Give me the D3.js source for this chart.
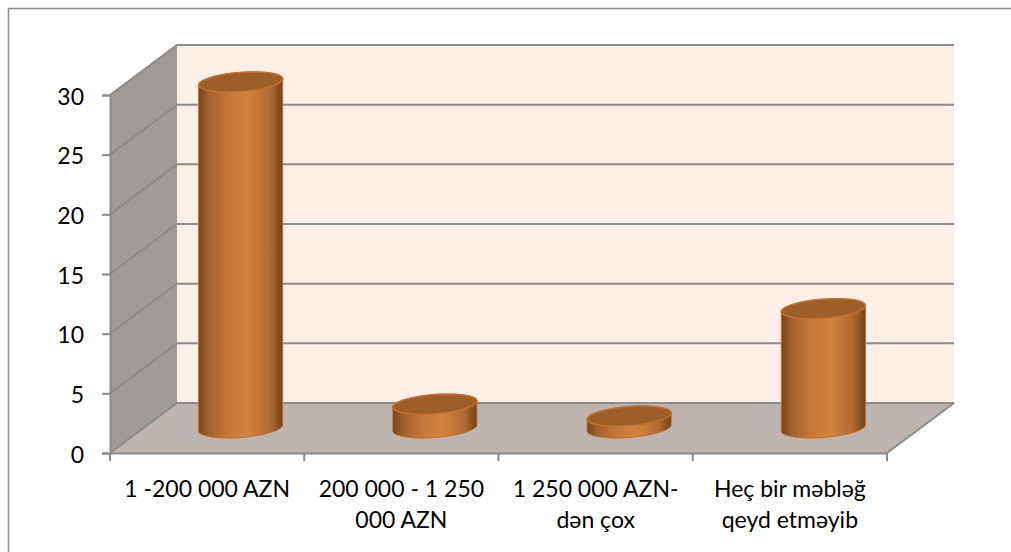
<!DOCTYPE html>
<html>
<head>
<meta charset="utf-8">
<script src="https://cdn.jsdelivr.net/npm/d3@7/dist/d3.min.js"></script>
<style>
  html, body { margin: 0; padding: 0; background: #fff; }
  svg { display: block; }
  text { font-family: Lato, "Open Sans", sans-serif; font-size: 23px; fill: #000; }
</style>
</head>
<body>
<script>
'use strict';

const categories = [
  ['1 -200 000 AZN'],
  ['200 000 - 1 250', '000 AZN'],
  ['1 250 000 AZN-', 'dən çox'],
  ['Heç bir məbləğ', 'qeyd etməyib']
];
const values = [29, 2, 1, 10];
const tickValues = [0, 5, 10, 15, 20, 25, 30];

const width = 1011, height = 552;
const depthX = 67, depthY = -50;

const svg = d3.select('body').append('svg')
  .attr('width', width)
  .attr('height', height);

const x = d3.scaleBand().domain(d3.range(categories.length)).range([110, 887]);
const y = d3.scaleLinear().domain([0, 30]).range([453, 95]);

const top30 = y(30), bottom0 = y(0), left = x.range()[0], right = x.range()[1];

// chart frame, only the top and left edges are inside the window
svg.append('path')
  .attr('d', d3.line()([[8.5, height], [8.5, 8.5], [width, 8.5]]))
  .attr('fill', 'none')
  .attr('stroke', '#8c8c8c')
  .attr('stroke-width', 1.5);

// gradient for the cylinder sides
const defs = svg.append('defs');
const grad = defs.append('linearGradient').attr('id', 'cyl');
[[0, '#774519'], [0.12, '#a2602a'], [0.35, '#c4773a'], [0.58, '#d4833e'], [0.85, '#b26a30'], [1, '#6f421b']]
  .forEach(s => grad.append('stop').attr('offset', s[0]).attr('stop-color', s[1]));

// back wall
svg.append('rect')
  .attr('x', left + depthX).attr('y', top30 + depthY)
  .attr('width', right - left).attr('height', bottom0 - top30)
  .attr('fill', '#fdeee7');

// side wall
svg.append('path')
  .attr('d', d3.line()([[left, top30], [left + depthX, top30 + depthY], [left + depthX, bottom0 + depthY], [left, bottom0]]) + 'Z')
  .attr('fill', '#a09a96');

// floor
svg.append('path')
  .attr('d', d3.line()([[left, bottom0], [left + depthX, bottom0 + depthY], [right + depthX, bottom0 + depthY], [right, bottom0]]) + 'Z')
  .attr('fill', '#bdb3af');

// gridlines along side wall and back wall
tickValues.forEach(t => {
  svg.append('path')
    .attr('d', d3.line()([[left, y(t)], [left + depthX, y(t) + depthY], [right + depthX, y(t) + depthY]]))
    .attr('fill', 'none')
    .attr('stroke', '#8b8b8b')
    .attr('stroke-width', 2);
});

// floor right edge
svg.append('line')
  .attr('x1', right).attr('y1', bottom0)
  .attr('x2', right + depthX).attr('y2', bottom0 + depthY)
  .attr('stroke', '#8b8b8b').attr('stroke-width', 2);

// axes
const yAxis = d3.axisLeft(y).tickValues(tickValues).tickSize(8).tickPadding(18);
const gy = svg.append('g').attr('transform', 'translate(' + left + ',0)').call(yAxis);
const xAxis = d3.axisBottom(x).tickValues([]).tickSize(0);
const gx = svg.append('g').attr('transform', 'translate(0,' + bottom0 + ')').call(xAxis);
[gy, gx].forEach(g => {
  g.selectAll('path, line').attr('stroke', '#8b8b8b').attr('stroke-width', 2);
  g.selectAll('text').attr('font-size', null).attr('font-family', null);
});
gy.attr('font-size', null).attr('font-family', null);
gy.selectAll('text').attr('dy', '0.4em');

// category ticks
d3.range(categories.length + 1).forEach(i => {
  const tx = left + i * x.bandwidth();
  svg.append('line')
    .attr('x1', tx).attr('x2', tx)
    .attr('y1', bottom0).attr('y2', bottom0 + 8)
    .attr('stroke', '#8b8b8b').attr('stroke-width', 2);
});

// category labels
categories.forEach((lines, i) => {
  const t = svg.append('text')
    .attr('text-anchor', 'middle')
    .attr('transform', 'translate(' + (x(i) + x.bandwidth() / 2) + ',0)');
  lines.forEach((l, j) => t.append('tspan').attr('x', 0).attr('y', 497 + j * 31).text(l));
});

// a tilted ellipse point, u along the x axis and v along the depth
function ringPoint(cx, cy, a) {
  return [cx + 40 * Math.cos(a) + 13 * Math.sin(a), cy - 10 * Math.sin(a)];
}

// cylinders
values.forEach((v, i) => {
  const cx = x(i) + x.bandwidth() / 2 + depthX / 2;
  const baseY = y(0) + depthY / 2;
  const topY = y(v) + depthY / 2;
  const tExt = Math.atan2(13, 40);   // angle of rightmost point on the ellipse
  const n = 60;
  const line = d3.line().curve(d3.curveLinearClosed);
  const side = [];
  for (let k = 0; k <= n; k++) side.push(ringPoint(cx, topY, tExt + Math.PI * k / n));
  for (let k = 0; k <= n; k++) side.push(ringPoint(cx, baseY, tExt + Math.PI + Math.PI * k / n));
  svg.append('path')
    .attr('d', line(side))
    .attr('fill', 'url(#cyl)')
    .attr('stroke', '#c0702f')
    .attr('stroke-width', 1);
  const cap = d3.range(n).map(k => ringPoint(cx, topY, 2 * Math.PI * k / n));
  svg.append('path')
    .attr('d', line(cap))
    .attr('fill', '#9c5f2a')
    .attr('stroke', '#c0702f')
    .attr('stroke-width', 1.5);
});
</script>
</body>
</html>
